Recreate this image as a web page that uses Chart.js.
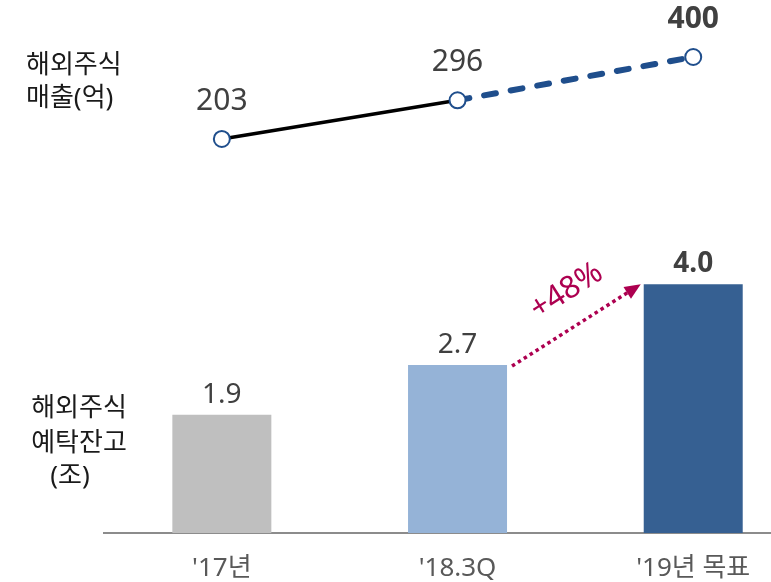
<!DOCTYPE html>
<html lang="ko">
<head>
<meta charset="utf-8">
<script src="https://cdn.jsdelivr.net/npm/chart.js@4/dist/chart.umd.min.js"></script>
<style>
  html, body { margin: 0; padding: 0; background: #fff; }
  #wrap { position: relative; width: 771px; height: 582px; }
</style>
</head>
<body>
<div id="wrap"><canvas id="overseas-chart"></canvas></div>
<script>
const categories = ["'17년", "'18.3Q", "'19년 목표"];
const depositBalance = [1.9, 2.7, 4.0];   // 해외주식 예탁잔고 (조)
const overseasSales = [203, 296, 400];    // 해외주식 매출 (억)
const barColors = ["#bfbfbf", "#95b3d7", "#366092"];

const FONT = "'Noto Sans', 'Noto Sans CJK KR', sans-serif";
const MAGENTA = "#ad0050";
const NAVY = "#1f4e8c";

let canvas = document.getElementById("overseas-chart");

// value labels, left captions and the growth arrow between the last two bars
const annotate = {
  id: 'annotate',
  afterDatasetsDraw(chart) {
    const ctx = chart.ctx;
    const points = chart.getDatasetMeta(0).data;
    const bars = chart.getDatasetMeta(1).data;
    const last = categories.length - 1;

    ctx.save();
    ctx.textAlign = 'center';
    ctx.textBaseline = 'alphabetic';
    ctx.fillStyle = '#404040';
    bars.forEach((bar, i) => {
      ctx.font = (i === last ? 'bold ' : '') + '28px ' + FONT;
      ctx.fillText(depositBalance[i].toFixed(1), bar.x, bar.y - 12);
    });
    points.forEach((pt, i) => {
      ctx.font = (i === last ? 'bold ' : '') + '30px ' + FONT;
      ctx.fillText(String(overseasSales[i]), pt.x, pt.y - 29);
    });

    // captions
    ctx.fillStyle = '#1a1a1a';
    ctx.font = '26px ' + FONT;
    ctx.textBaseline = 'middle';
    ctx.textAlign = 'left';
    ctx.fillText('해외주식', 26, 66);
    ctx.fillText('매출(억)', 26, 99);
    ctx.textAlign = 'center';
    ctx.fillText('해외주식', 79, 409);
    ctx.fillText('예탁잔고', 79, 444);
    ctx.fillText('(조)', 70, 477);

    // dotted arrow from bar 2 to bar 3
    const from = bars[1], to = bars[2];
    const x0 = from.x + from.width / 2 + 5, y0 = from.y + 1;
    const x1 = to.x - to.width / 2 - 3, y1 = to.y;
    const ang = Math.atan2(y1 - y0, x1 - x0);
    const cos = Math.cos(ang), sin = Math.sin(ang);
    const head = 16, half = 7;
    ctx.strokeStyle = MAGENTA;
    ctx.lineWidth = 3.5;
    ctx.setLineDash([3.5, 3.5]);
    ctx.beginPath();
    ctx.moveTo(x0, y0);
    ctx.lineTo(x1 - head * cos, y1 - head * sin);
    ctx.stroke();
    ctx.setLineDash([]);
    ctx.fillStyle = MAGENTA;
    ctx.beginPath();
    ctx.moveTo(x1, y1);
    ctx.lineTo(x1 - head * cos + half * sin, y1 - head * sin - half * cos);
    ctx.lineTo(x1 - head * cos - half * sin, y1 - head * sin + half * cos);
    ctx.closePath();
    ctx.fill();

    const growth = Math.round((depositBalance[2] / depositBalance[1] - 1) * 100);
    const tx = (x0 + x1) / 2 + 10 * cos + 34 * sin;
    const ty = (y0 + y1) / 2 + 10 * sin - 34 * cos;
    ctx.translate(tx, ty);
    ctx.rotate(ang);
    ctx.font = '31px ' + FONT;
    ctx.textBaseline = 'middle';
    ctx.fillText('+' + growth + '%', 0, 0);
    ctx.restore();
  }
};

new Chart(canvas, {
  data: {
    datasets: [{
      type: 'line',
      label: '해외주식 매출',
      data: overseasSales.map((v, i) => ({ x: i, y: v })),
      yAxisID: 'ySales',
      order: 0,
      borderColor: '#000',
      borderWidth: 3.5,
      pointRadius: 8,
      pointBorderWidth: 2,
      pointBackgroundColor: '#fff',
      pointBorderColor: NAVY,
      clip: false,
      segment: {
        borderColor: c => c.p0DataIndex === 0 ? '#000' : NAVY,
        borderWidth: c => c.p0DataIndex === 0 ? 3.5 : 6,
        borderDash: c => c.p0DataIndex === 0 ? [] : [12, 15],
        borderCapStyle: c => c.p0DataIndex === 0 ? 'butt' : 'round'
      }
    }, {
      type: 'bar',
      label: '해외주식 예탁잔고',
      data: depositBalance.map((v, i) => ({ x: i, y: v })),
      yAxisID: 'yBalance',
      order: 1,
      backgroundColor: barColors,
      barPercentage: 0.42,
      categoryPercentage: 1
    }]
  },
  options: {
    responsive: true,
    maintainAspectRatio: false,
    animation: false,
    layout: { autoPadding: false, padding: { left: 104, right: 0, top: 0, bottom: 0 } },
    plugins: {
      legend: { display: false },
      tooltip: { enabled: false }
    },
    scales: {
      x: {
        type: 'linear',
        offset: false,
        min: -0.5,
        max: 2.33,
        grid: { display: false, drawTicks: false, offset: false },
        border: { color: '#8c8c8c', width: 2 },
        afterBuildTicks: s => { s.ticks = categories.map((_, i) => ({ value: i })); },
        afterFit: s => { s.height = 49; s.paddingLeft = 0; s.paddingRight = 0; },
        ticks: {
          padding: 20,
          maxRotation: 0,
          autoSkip: false,
          color: '#595959',
          font: { family: FONT, size: 26 },
          callback: v => categories[v]
        }
      },
      yBalance: { display: false, min: 0, max: 8.57 },
      ySales: { display: false, min: -744, max: 537 }
    }
  },
  plugins: [annotate]
});
</script>
</body>
</html>
